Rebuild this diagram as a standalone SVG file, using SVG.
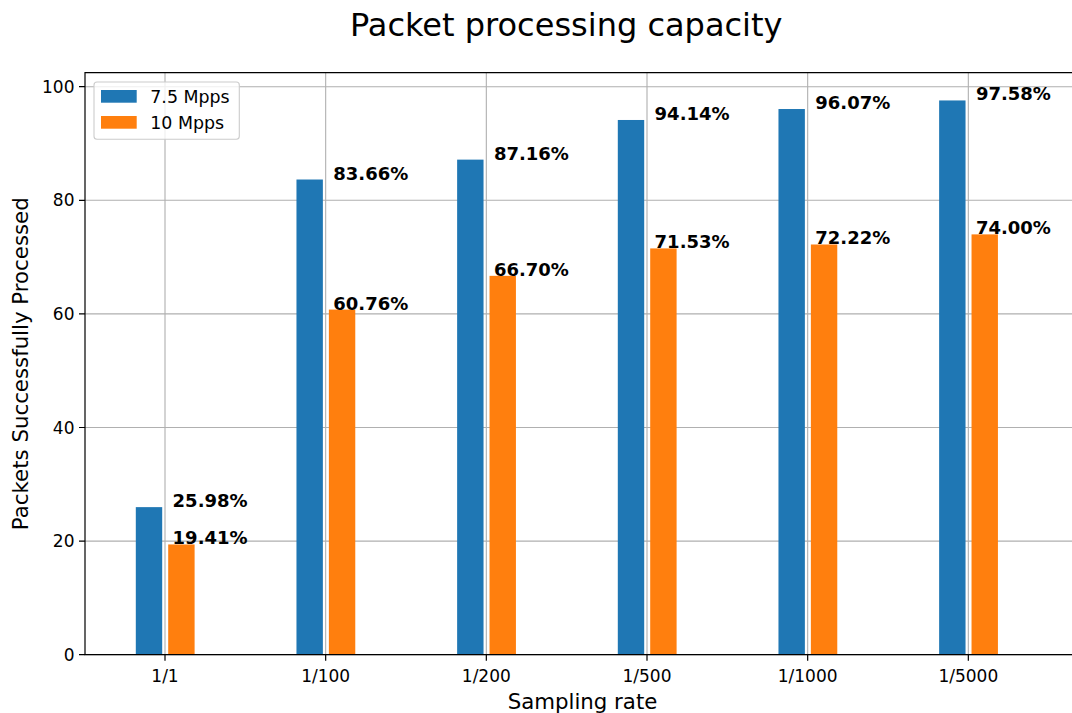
<svg xmlns="http://www.w3.org/2000/svg" width="1072" height="713" viewBox="0 0 1072 713">
<style>
text{font-family:"DejaVu Sans","Liberation Sans",sans-serif;fill:#000}
.grid{stroke:#b0b0b0;stroke-width:1.1;fill:none}
.spine{stroke:#000;stroke-width:1.2;fill:none}
.tick{stroke:#000;stroke-width:1.2}
.b{fill:#1f77b4}
.o{fill:#ff7f0e}
.tl{font-size:17.4px}
.yl{font-size:17px;text-anchor:end}
.xl{font-size:17px;text-anchor:middle}
.val{font-size:18px;font-weight:bold}
.lab{font-size:21.3px;text-anchor:middle}
</style>
<rect x="0" y="0" width="1072" height="713" fill="#fff"/>
<g id="grid">
<path class="grid" d="M85 654.7H1072M85 541.1H1072M85 427.5H1072M85 313.9H1072M85 200.3H1072M85 86.7H1072"/>
<path class="grid" d="M165 72.7V654.7M325.67 72.7V654.7M486.33 72.7V654.7M647 72.7V654.7M807.67 72.7V654.7M968.33 72.7V654.7"/>
</g>
<g id="bars-1-1">
<rect class="b" x="135.8" y="507.13" width="26.4" height="147.57"/>
<rect class="o" x="168.2" y="544.45" width="26.4" height="110.25"/>
<text class="val" x="172.6" y="507.13">25.98%</text>
<text class="val" x="172.6" y="544.45">19.41%</text>
</g>
<g id="bars-1-100">
<rect class="b" x="296.47" y="179.51" width="26.4" height="475.19"/>
<rect class="o" x="328.87" y="309.58" width="26.4" height="345.12"/>
<text class="val" x="333.27" y="179.51">83.66%</text>
<text class="val" x="333.27" y="309.58">60.76%</text>
</g>
<g id="bars-1-200">
<rect class="b" x="457.13" y="159.63" width="26.4" height="495.07"/>
<rect class="o" x="489.53" y="275.84" width="26.4" height="378.86"/>
<text class="val" x="493.93" y="159.63">87.16%</text>
<text class="val" x="493.93" y="275.84">66.70%</text>
</g>
<g id="bars-1-500">
<rect class="b" x="617.8" y="119.98" width="26.4" height="534.72"/>
<rect class="o" x="650.2" y="248.41" width="26.4" height="406.29"/>
<text class="val" x="654.6" y="119.98">94.14%</text>
<text class="val" x="654.6" y="248.41">71.53%</text>
</g>
<g id="bars-1-1000">
<rect class="b" x="778.47" y="109.02" width="26.4" height="545.68"/>
<rect class="o" x="810.87" y="244.49" width="26.4" height="410.21"/>
<text class="val" x="815.27" y="109.02">96.07%</text>
<text class="val" x="815.27" y="244.49">72.22%</text>
</g>
<g id="bars-1-5000">
<rect class="b" x="939.13" y="100.45" width="26.4" height="554.25"/>
<rect class="o" x="971.53" y="234.38" width="26.4" height="420.32"/>
<text class="val" x="975.93" y="100.45">97.58%</text>
<text class="val" x="975.93" y="234.38">74.00%</text>
</g>
<g id="axes">
<path class="spine" d="M1072 72.7H85V654.7H1072"/>
<path class="tick" d="M79 654.7H85M79 541.1H85M79 427.5H85M79 313.9H85M79 200.3H85M79 86.7H85"/>
<path class="tick" d="M165 654.7V660.7M325.67 654.7V660.7M486.33 654.7V660.7M647 654.7V660.7M807.67 654.7V660.7M968.33 654.7V660.7"/>
<text class="yl" x="74.5" y="660.8">0</text>
<text class="yl" x="74.5" y="547.2">20</text>
<text class="yl" x="74.5" y="433.6">40</text>
<text class="yl" x="74.5" y="320">60</text>
<text class="yl" x="74.5" y="206.4">80</text>
<text class="yl" x="74.5" y="92.8">100</text>
<text class="xl" x="165" y="681.7">1/1</text>
<text class="xl" x="325.67" y="681.7">1/100</text>
<text class="xl" x="486.33" y="681.7">1/200</text>
<text class="xl" x="647" y="681.7">1/500</text>
<text class="xl" x="807.67" y="681.7">1/1000</text>
<text class="xl" x="968.33" y="681.7">1/5000</text>
<text class="lab" x="582.5" y="708.5">Sampling rate</text>
<text class="lab" transform="translate(28,363.7) rotate(-90)">Packets Successfully Processed</text>
<text x="566.2" y="36" font-size="32" text-anchor="middle">Packet processing capacity</text>
</g>
<g id="legend">
<rect x="94" y="82" width="145.3" height="57.3" rx="3" fill="#fff" fill-opacity="0.8" stroke="#cccccc" stroke-width="1.1"/>
<rect class="b" x="101" y="90" width="35.7" height="12.7"/>
<rect class="o" x="101" y="116" width="35.7" height="12.7"/>
<text class="tl" x="150.3" y="102.5">7.5 Mpps</text>
<text class="tl" x="150.3" y="128.5">10 Mpps</text>
</g>
</svg>
